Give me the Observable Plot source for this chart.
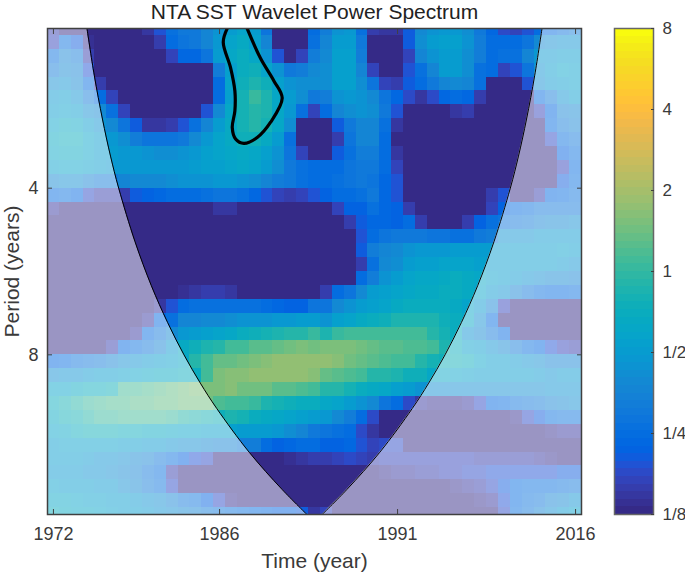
<!DOCTYPE html>
<html><head><meta charset="utf-8">
<script src="https://cdn.jsdelivr.net/npm/d3@7"></script>
<script src="https://cdn.jsdelivr.net/npm/@observablehq/plot@0.6"></script>
<style>
html,body{margin:0;padding:0;background:#fff}
#wrap{position:relative;width:685px;height:576px;overflow:hidden;font-family:"Liberation Sans",Arial,sans-serif}
#wrap svg{position:absolute;top:0;background:#fff}
</style></head><body><div id="wrap"></div>
<script>
const title = "NTA SST Wavelet Power Spectrum";
const xLabel = "Time (year)", yLabel = "Period (years)";
const yearTicks = [1972, 1986, 2001, 2016];
const yearTickLabels = ["1972", "1986", "1991", "2016"];
const periodTicks = [4, 8];
const barTicks = [-3, -2, -1, 0, 1, 2, 3];
const barTickLabels = ["1/8", "1/4", "1/2", "1", "2", "4", "8"];

// log2 wavelet power, one array per period row, 1972..2016
const r00=[-2.7,-3,-3,-3,-3,-3,-3,-3,-2.8,-2.4,-1.9,-1.7,-1.7,-1.5,-1.2,-1,-.8,-1,-1.8,-3,-3,-3,-2,-1.6,-1.2,-1.1,-1.9,-2.7,-2.8,-2.8,-2.3,-1.4,-1.2,-1.1,-1.1,-1.3,-1.7,-2.1,-2.5,-2.6,-2.4,-2,-2,-1.8,-1.6];
const r01=[-2.6,-1.9,-2.3,-2.9,-3,-3,-3,-3,-3,-2.7,-2,-1.8,-1.7,-1.5,-1.1,-.8,-.6,-.9,-1.5,-3,-3,-3,-1.9,-1.5,-1,-1,-1.7,-3,-3,-3,-2.3,-1.3,-1,-.9,-.9,-1.2,-1.6,-2,-2,-2,-1.8,-1.4,-1.3,-1.2,-1.2];
const r02=[-1.9,-1.5,-1.6,-2.7,-3,-3,-3,-3,-3,-3,-2.6,-2.1,-2.1,-1.8,-1,-.7,-.5,-.7,-1.2,-2.4,-3,-2.6,-1.6,-1.4,-.9,-.9,-1.6,-3,-3,-3,-2.6,-1.5,-1.2,-1,-1,-1.3,-1.6,-2,-1.9,-1.9,-1.5,-1.1,-1.1,-1,-1];
const r03=[-1.6,-1.4,-1.5,-2.4,-3,-3,-3,-3,-3,-3,-3,-3,-3,-3,-1.6,-.9,-.5,-.4,-.8,-1.2,-1.7,-1.6,-1.4,-1.3,-.9,-.9,-1.5,-2.6,-3,-3,-2.4,-1.9,-1.5,-1,-1,-1.3,-1.9,-2,-2.6,-2.4,-1.8,-1.2,-1,-.8,-.9];
const r04=[-1.3,-1.2,-1.4,-2,-2.7,-3,-3,-3,-3,-3,-3,-3,-3,-3,-2,-.8,-.4,-.2,-.4,-.9,-1.2,-1.3,-1.3,-1.3,-.9,-.9,-1.3,-1.8,-2.6,-2.7,-2.3,-2,-1.7,-1.5,-1.4,-1.5,-1.9,-3,-3,-3,-2.4,-1.3,-1.1,-1,-.9];
const r05=[-1.1,-1,-1.2,-1.6,-2,-2.6,-3,-3,-3,-3,-3,-3,-3,-3,-2,-.9,-.3,0,-.2,-.7,-1,-1.3,-1.7,-1.6,-1.2,-1.1,-1.2,-1.4,-1.8,-2.1,-2.5,-2.8,-2.5,-2.1,-2,-2.1,-2.7,-3,-3,-3,-3,-2,-1.6,-1.2,-1];
const r06=[-1,-.9,-1,-1.3,-1.4,-1.9,-2.6,-3,-3,-3,-3,-3,-3,-2.4,-1.4,-.7,-.3,-.1,-.2,-.7,-1.1,-1.9,-2.6,-2,-1.5,-1.3,-1.2,-1.3,-1.7,-2.4,-3,-3,-3,-3,-2.8,-2.7,-3,-3,-3,-3,-3,-2.6,-2.1,-1.5,-1.4];
const r07=[-.8,-.6,-.7,-1,-1.2,-1.4,-1.8,-2.3,-2.8,-2.8,-2.7,-2.4,-1.9,-1.5,-1,-.6,-.3,-.1,-.3,-.7,-1.3,-3,-3,-3,-2.3,-1.7,-1.5,-1.5,-1.9,-2.8,-3,-3,-3,-3,-3,-3,-3,-3,-3,-3,-3,-3,-2,-1.6,-1.5];
const r08=[-.6,-.5,-.5,-.8,-1,-1.1,-1.3,-1.6,-1.8,-1.8,-1.8,-1.7,-1.4,-1.1,-.8,-.6,-.4,-.4,-.6,-1,-1.9,-3,-3,-3,-2.7,-1.8,-1.5,-1.5,-2,-3,-3,-3,-3,-3,-3,-3,-3,-3,-3,-3,-3,-3,-2.5,-1.9,-1.7];
const r09=[-.7,-.6,-.6,-.8,-1,-1,-1.1,-1.1,-1.2,-1.3,-1.3,-1.2,-1.1,-.9,-.8,-.7,-.6,-.7,-.9,-1.2,-1.8,-2.6,-3,-3,-2.3,-1.9,-1.6,-1.6,-2,-2.8,-3,-3,-3,-3,-3,-3,-3,-3,-3,-3,-3,-3,-3,-2.2,-1.9];
const r10=[-.9,-.8,-.8,-.9,-1,-1.1,-1.1,-1.1,-1.1,-1.1,-1.1,-1.1,-1,-.9,-.9,-.8,-.7,-.8,-1,-1.3,-1.7,-1.9,-2,-2,-2,-1.8,-1.7,-1.7,-2,-2.6,-3,-3,-3,-3,-3,-3,-3,-3,-3,-3,-3,-3,-3,-2.6,-2];
const r11=[-1.4,-1.3,-1.3,-1.5,-1.6,-1.6,-1.5,-1.4,-1.4,-1.4,-1.3,-1.2,-1.2,-1.2,-1.1,-1.1,-1.2,-1.3,-1.5,-1.6,-1.7,-1.9,-2,-2,-1.9,-1.8,-1.7,-1.8,-2.1,-2.4,-3,-3,-3,-3,-3,-3,-3,-3,-3,-3,-3,-3,-3,-2.3,-1.9];
const r12=[-2,-1.9,-2.1,-2.5,-2.7,-2.7,-2.7,-2.3,-2.2,-2.1,-2,-2,-2,-1.9,-1.8,-1.8,-1.9,-2.1,-2.4,-2.6,-2.7,-2.6,-2.4,-2.2,-2,-2,-1.9,-1.7,-2.1,-2.4,-3,-3,-3,-3,-3,-3,-3,-2.7,-2.4,-3,-3,-2.7,-2.1,-2,-1.8];
const r13=[-2.8,-3,-3,-3,-3,-3,-3,-3,-3,-3,-3,-3,-3,-3,-2.8,-2.8,-3,-3,-3,-3,-3,-3,-3,-3,-2.6,-2.2,-2.2,-1.9,-2.1,-2.2,-2.7,-3,-3,-3,-3,-3,-3,-2.6,-2.2,-2,-1.9,-1.7,-1.7,-1.7,-1.7];
const r14=[-3,-3,-3,-3,-3,-3,-3,-3,-3,-3,-3,-3,-3,-3,-3,-3,-3,-3,-3,-3,-3,-3,-3,-3,-3,-2.7,-2.3,-2.1,-2.1,-2.2,-2,-2.7,-3,-3,-3,-2.7,-2.2,-1.9,-1.8,-1.7,-1.6,-1.5,-1.4,-1.4,-1.3];
const r15=[-3,-3,-3,-3,-3,-3,-3,-3,-3,-3,-3,-3,-3,-3,-3,-3,-3,-3,-3,-3,-3,-3,-3,-3,-3,-3,-2.4,-2,-1.8,-1.7,-1.7,-1.7,-1.8,-1.8,-1.9,-1.9,-1.7,-1.6,-1.2,-1.2,-1.2,-1.1,-1.1,-1.1,-1.1];
const r16=[-3,-3,-3,-3,-3,-3,-3,-3,-3,-3,-3,-3,-3,-3,-3,-3,-3,-3,-3,-3,-3,-3,-3,-3,-3,-3,-2.3,-1.6,-1.5,-1.4,-1.2,-1.1,-1.1,-1.1,-1,-1,-1,-1,-1,-1,-1,-1,-1,-.9,-1];
const r17=[-3,-3,-3,-3,-3,-3,-3,-3,-3,-3,-3,-3,-3,-3,-3,-3,-3,-3,-3,-3,-3,-3,-3,-3,-3,-3,-2.7,-1.9,-1.4,-1.3,-1,-.9,-.9,-.8,-.8,-.8,-.9,-1,-1,-1,-1,-1,-1,-1.1,-1.2];
const r18=[-3,-3,-3,-3,-3,-3,-3,-3,-3,-3,-3,-3,-3,-3,-3,-3,-3,-3,-3,-3,-3,-3,-3,-3,-3,-3,-2,-1.6,-1.2,-1,-.8,-.7,-.7,-.6,-.5,-.6,-.7,-.9,-1,-1.1,-1.2,-1.3,-1.4,-1.4,-1.5];
const r19=[-3,-3,-3,-3,-3,-3,-3,-3,-3,-3,-3,-2.9,-2.8,-2.7,-2.7,-2.8,-3,-3,-3,-3,-3,-3,-3,-2.7,-2,-1.8,-1.4,-1,-.9,-.8,-.7,-.6,-.6,-.5,-.5,-.6,-.8,-1.1,-1.2,-1.5,-1.7,-1.9,-2,-2,-1.9];
const r20=[-3,-3,-3,-3,-3,-3,-3,-3,-3,-2.8,-2.4,-2,-1.9,-1.9,-1.9,-1.9,-1.9,-1.9,-2,-2.1,-2.2,-2.2,-1.8,-1.8,-1.4,-1.2,-1,-.9,-.8,-.6,-.5,-.5,-.5,-.5,-.6,-.8,-1.1,-1.5,-2.6,-3,-3,-3,-3,-3,-3];
const r21=[-3,-3,-3,-3,-3,-3,-3,-3,-2.8,-2.1,-1.9,-1.5,-1.5,-1.4,-1.4,-1.3,-1.2,-1.2,-1.2,-1.1,-1.1,-1,-1,-1.2,-.9,-.8,-.6,-.5,-.4,-.2,-.2,-.2,-.2,-.4,-.5,-.7,-1.3,-2,-3,-3,-3,-3,-3,-3,-3];
const r22=[-3,-3,-3,-3,-3,-3,-3,-2.8,-2,-1.7,-1.4,-1.1,-1,-.9,-.8,-.7,-.5,-.4,-.3,-.2,-.1,-.1,0,-.2,0,.1,.1,.1,.1,.1,.1,.1,-.1,-.3,-.5,-1.2,-1.4,-1.7,-2.1,-3,-3,-3,-3,-3,-3];
const r23=[-3,-3,-3,-3,-3,-2.7,-2.1,-1.9,-1.7,-1.5,-1.1,-.6,-.4,-.2,-.1,.1,.1,.3,.3,.4,.5,.6,.5,.6,.6,.6,.5,.4,.3,.3,.2,.2,.1,-.2,-.5,-.9,-1,-1.2,-1.4,-1.6,-1.9,-2.1,-2.4,-2.6,-2.7];
const r24=[-2.1,-2,-1.8,-1.7,-1.6,-1.5,-1.3,-1.2,-1.1,-1,-.9,-.7,-.1,.1,.4,.4,.5,.6,.7,.8,.8,.8,.8,.8,.7,.5,.4,.3,.2,.1,.1,-.1,-.3,-.4,-.4,-.5,-.8,-1,-1,-1.1,-1.2,-1.3,-1.5,-1.5,-1.5];
const r25=[-1.3,-1.2,-1.2,-1.1,-1,-1,-.9,-.8,-.7,-.6,-.6,-.5,-.5,.1,.6,.7,.7,.8,.8,.8,.8,.8,.7,.4,.3,.2,.1,-.1,-.1,-.2,-.4,-.4,-.7,-.7,-.8,-.9,-1,-1,-1,-1,-1,-1.1,-1.2,-1.1,-1.1];
const r26=[-.8,-.8,-.6,-.5,-.5,-.4,.1,.1,.2,.3,.4,.5,.6,.6,.6,.7,.5,.5,.5,.3,.3,.2,.1,-.1,-.1,-.3,-.5,-.6,-.7,-.9,-1,-1.2,-1.3,-1.3,-1.3,-1.3,-1.3,-1.3,-1.3,-1.3,-1.3,-1.3,-1.2,-1.2,-1.2];
const r27=[-.5,-.3,-.1,0,.1,.2,.2,.3,.3,.4,.4,.5,.5,.5,.2,.1,.1,0,-.2,-.3,-.4,-.5,-.5,-.7,-.8,-1,-1.2,-1.4,-1.8,-2,-2.5,-2.8,-2.9,-2.9,-2.9,-2.8,-2.5,-2.1,-2,-1.8,-1.7,-1.6,-1.5,-1.4,-1.3];
const r28=[-.6,-.4,-.3,-.1,0,0,.1,.1,.1,.1,0,-.1,-.2,-.3,-.4,-.2,-.3,-.5,-.6,-.7,-.8,-.9,-1,-1.1,-1.4,-1.6,-2,-2.5,-3,-3,-3,-3,-3,-3,-3,-3,-3,-3,-3,-2.9,-2.5,-2.3,-1.9,-1.8,-1.8];
const r29=[-.8,-.7,-.5,-.4,-.4,-.4,-.5,-.5,-.6,-.6,-.7,-.8,-.8,-.9,-.9,-.9,-1,-1,-1,-1.1,-1.3,-1.5,-1.7,-1.8,-1.9,-2,-2.5,-2.8,-3,-3,-3,-3,-3,-3,-3,-3,-3,-3,-3,-3,-3,-3,-2.9,-2.8,-2.8];
const r30=[-1,-.9,-.9,-.9,-.9,-.9,-1,-1,-1.1,-1.1,-1.2,-1.3,-1.3,-1.4,-1.5,-1.5,-1.6,-1.6,-2,-2.2,-2.1,-2,-2,-2.2,-2.2,-2.1,-2.4,-2.6,-2.5,-2.5,-3,-3,-3,-3,-3,-3,-3,-3,-3,-3,-3,-3,-3,-3,-3];
const r31=[-1,-1,-1,-1.1,-1.2,-1.2,-1.3,-1.4,-1.5,-1.7,-1.9,-2.2,-2.4,-2.5,-3,-3,-3,-3,-3,-3,-2.9,-2.8,-2.7,-2.7,-2.6,-2.5,-2.6,-2.7,-2.6,-2.6,-2.6,-2.6,-2.6,-2.6,-2.6,-2.6,-2.7,-2.7,-2.7,-2.7,-2.7,-2.8,-2.9,-3,-3];
const r32=[-1.1,-1.1,-1.1,-1.2,-1.2,-1.3,-1.4,-1.5,-1.7,-1.9,-2.7,-3,-3,-3,-3,-3,-3,-3,-3,-3,-3,-3,-3,-3,-3,-3,-3,-3,-2.9,-2.8,-2.8,-2.7,-2.7,-2.6,-2.6,-2.5,-2.5,-2.4,-2.4,-2.4,-2.4,-2.4,-2.4,-2.3,-2.3];
const r33=[-.9,-1,-1,-1,-1.1,-1.1,-1.3,-1.4,-1.6,-1.8,-2.5,-3,-3,-3,-3,-3,-3,-3,-3,-3,-3,-3,-3,-3,-3,-3,-3,-3,-3,-3,-3,-3,-3,-3,-2.9,-2.8,-2.7,-2.5,-2.3,-2,-1.9,-1.9,-1.9,-1.8,-1.7];
const r34=[-.7,-.7,-.8,-.9,-.9,-1,-1,-1.1,-1.2,-1.3,-1.5,-1.7,-1.8,-2.2,-2.5,-2.9,-3,-3,-3,-3,-3,-3,-3,-3,-3,-3,-3,-3,-3,-3,-3,-3,-3,-3,-3,-3,-2.9,-2.8,-2.4,-2,-1.8,-1.7,-1.5,-1.4,-1.2];
const r35=[-.5,-.6,-.7,-.7,-.8,-.9,-1,-1,-1.1,-1.2,-1.3,-1.4,-1.5,-1.6,-1.7,-1.8,-1.9,-2,-2.1,-2.2,-2.2,-2.3,-2.8,-2.6,-3,-3,-3,-3,-3,-3,-3,-3,-3,-3,-3,-3,-3,-3,-2.5,-1.9,-1.7,-1.5,-1.3,-1.1,-.9];
const powerRows=[r00,r01,r02,r03,r04,r05,r06,r07,r08,r09,r10,r11,r12,r13,r14,r15,r16,r17,r18,r19,r20,r21,r22,r23,r24,r25,r26,r27,r28,r29,r30,r31,r32,r33,r34,r35];

// cone of influence
const conePeriod=[2.06,2.5,3,3.5,4,5,6,7,8,9,10,12,14,15.62];
const coneLeft=[1974.83,1975.44,1976.13,1976.81,1977.5,1978.88,1980.25,1981.63,1983,1984.38,1985.76,1988.5,1991.26,1993.46];
const coneRight=[2013.17,2012.56,2011.87,2011.19,2010.5,2009.12,2007.75,2006.37,2005,2003.62,2002.24,1999.5,1996.74,1994.54];

// significance contour
const sigYear=[1986.64,1986.31,1986.92,1987.29,1987.29,1987.07,1987.35,1988.05,1989.17,1990.3,1991.28,1990.58,1989.45,1988.33];
const sigPeriod=[2.06,2.18,2.42,2.67,2.9,3.11,3.26,3.32,3.24,3.04,2.75,2.56,2.33,2.06];

// MATLAB parula
const parula=[[.2081,.1663,.5292],[.2116,.1898,.5777],[.2123,.2138,.627],[.2081,.2386,.6771],[.1959,.2645,.7279],[.1707,.2919,.7792],[.1253,.3242,.8303],[.0591,.3598,.8683],[.0117,.3875,.882],[.006,.4086,.8828],[.0165,.4266,.8786],[.0329,.443,.872],[.0498,.4586,.8641],[.0629,.4737,.8554],[.0723,.4887,.8467],[.0779,.504,.8384],[.0793,.52,.8312],[.0749,.5375,.8263],[.0641,.557,.824],[.0488,.5772,.8228],[.0343,.5966,.8199],[.0265,.6137,.8135],[.0239,.6287,.8038],[.0231,.6418,.7913],[.0228,.6535,.7767],[.0267,.6642,.7607],[.0384,.6743,.7436],[.059,.6838,.7254],[.0843,.6928,.7062],[.1133,.7015,.6859],[.1453,.7098,.6646],[.1801,.7177,.6424],[.2178,.725,.6193],[.2586,.7317,.5954],[.3022,.7376,.5712],[.3482,.7424,.5473],[.3953,.7459,.5244],[.442,.7481,.5033],[.4871,.7491,.484],[.53,.7491,.4661],[.5709,.7485,.4494],[.6099,.7473,.4337],[.6473,.7456,.4188],[.6834,.7435,.4044],[.7184,.7411,.3905],[.7525,.7384,.3768],[.7858,.7356,.3633],[.8185,.7327,.3498],[.8507,.7299,.336],[.8824,.7274,.3217],[.9139,.7258,.3063],[.945,.7261,.2886],[.9739,.7314,.2666],[.9938,.7455,.2403],[.999,.7653,.2164],[.9955,.7861,.1967],[.988,.8066,.1794],[.9789,.8271,.1633],[.9697,.8481,.1475],[.9626,.8705,.1309],[.9589,.8949,.1132],[.9598,.9218,.0948],[.9661,.9514,.0755],[.9763,.9831,.0538]];

const colors=parula.map(c=>d3.rgb(c[0]*255,c[1]*255,c[2]*255).formatHex());
const thresholds=d3.range(1,64).map(i=>-3+6*i/64);
const colorScale={type:"threshold",domain:thresholds,range:colors};
const rowEdge=i=>4*2**((i-11.5)/12);

powerRows.forEach((r,i)=>{ if(r.length!==45) throw new Error("row "+i+" has "+r.length); });

const cells=powerRows.flatMap((row,i)=>row.map((v,j)=>({year:1972+j,y1:rowEdge(i-.5),y2:rowEdge(i+.5),v})));
const cone=conePeriod.map((p,i)=>({p,l:coneLeft[i],r:coneRight[i]}));
const sig=sigYear.map((x,i)=>({x,y:sigPeriod[i]}));
const xDom=[1971.5,2016.5], yDom=[rowEdge(0),rowEdge(35)];
const axisStroke="#404040", textFill="#3a3a3a";
const yearFmt=d=>yearTickLabels[yearTicks.indexOf(d)];

const main=Plot.plot({
  width:610,height:576,marginLeft:47,marginRight:29,marginTop:28,marginBottom:62,
  style:{fontFamily:"'Liberation Sans',Arial,sans-serif",background:"#fff",color:textFill},
  x:{domain:xDom,label:null},
  y:{type:"log",base:2,domain:yDom,reverse:true,label:null},
  color:colorScale,
  marks:[
    Plot.rect(cells,{x1:d=>d.year-.5,x2:d=>d.year+.5,y1:"y1",y2:"y2",fill:"v",clip:true,shapeRendering:"crispEdges"}),
    Plot.areaX(cone,{y:"p",x1:()=>xDom[0],x2:"l",fill:"#fff",fillOpacity:.5,curve:"catmull-rom",clip:true}),
    Plot.areaX(cone,{y:"p",x1:"r",x2:()=>xDom[1],fill:"#fff",fillOpacity:.5,curve:"catmull-rom",clip:true}),
    Plot.line(cone,{x:"l",y:"p",stroke:"#000",strokeWidth:1,curve:"catmull-rom",clip:true}),
    Plot.line(cone,{x:"r",y:"p",stroke:"#000",strokeWidth:1,curve:"catmull-rom",clip:true}),
    Plot.line(sig,{x:"x",y:"y",stroke:"#000",strokeWidth:3.2,curve:"catmull-rom",clip:true}),
    Plot.frame({stroke:axisStroke,strokeWidth:1.5}),
    Plot.axisX({ticks:yearTicks,anchor:"bottom",tickSize:-5,tickPadding:18,tickFormat:yearFmt,fontSize:18,stroke:axisStroke,label:null}),
    Plot.axisX({ticks:yearTicks,anchor:"top",tickSize:-5,tickFormat:()=>"",stroke:axisStroke,label:null}),
    Plot.axisY({ticks:periodTicks,anchor:"left",tickSize:-5,tickPadding:14,tickFormat:d=>String(d),fontSize:18,stroke:axisStroke,label:null}),
    Plot.axisY({ticks:periodTicks,anchor:"right",tickSize:-5,tickFormat:()=>"",stroke:axisStroke,label:null}),
    Plot.text([title],{frameAnchor:"top",dy:-16.5,text:d=>d,fontSize:21,fill:"#222",lineAnchor:"middle"}),
    Plot.text([xLabel],{frameAnchor:"bottom",dy:47,text:d=>d,fontSize:21,fill:textFill,lineAnchor:"middle"}),
    Plot.text([yLabel],{frameAnchor:"left",dx:-35,rotate:-90,text:d=>d,fontSize:21,fill:textFill,textAnchor:"middle"})
  ]
});
main.style.left="0px";

const levels=colors.map((c,i)=>({v0:-3+6*i/64,v1:-3+6*(i+1)/64,mid:-3+6*(i+.5)/64}));
const bar=Plot.plot({
  width:75,height:576,marginLeft:4,marginRight:32,marginTop:28,marginBottom:62,
  style:{fontFamily:"'Liberation Sans',Arial,sans-serif",background:"#fff",color:textFill},
  x:{domain:[0,1],axis:null},
  y:{domain:[-3,3],label:null},
  color:colorScale,
  marks:[
    Plot.rect(levels,{x1:0,x2:1,y1:"v0",y2:"v1",fill:"mid",shapeRendering:"crispEdges"}),
    Plot.frame({stroke:"#666",strokeWidth:1.5}),
    Plot.axisY({ticks:barTicks,anchor:"right",tickSize:-3,tickPadding:12,tickFormat:d=>barTickLabels[barTicks.indexOf(d)],fontSize:17,stroke:axisStroke,label:null})
  ]
});
bar.style.left="610px";
document.getElementById("wrap").append(main,bar);
</script></body></html>
